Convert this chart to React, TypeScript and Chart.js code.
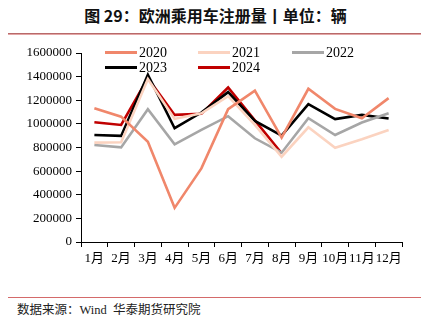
import React, { useEffect, useRef } from "react";
import { Chart, registerables } from "chart.js";

Chart.register(...registerables);

const months = ["1月", "2月", "3月", "4月", "5月", "6月", "7月", "8月", "9月", "10月", "11月", "12月"];
const y2020 = [1133000, 1061000, 849000, 289000, 623000, 1124000, 1282000, 883000, 1297000, 1127000, 1048000, 1218000];
const y2021 = [841000, 845000, 1380000, 1042000, 1090000, 1235000, 991000, 722000, 971000, 798000, 870000, 949000];
const y2022 = [821000, 801000, 1124000, 827000, 950000, 1065000, 878000, 756000, 1048000, 906000, 1011000, 1090000];
const y2023 = [906000, 898000, 1416000, 963000, 1096000, 1269000, 1025000, 900000, 1167000, 1040000, 1076000, 1045000];
const y2024 = [1014000, 991000, 1388000, 1076000, 1085000, 1308000, 1030000, 751000, null, null, null, null];

const seriesNames = ["2020", "2021", "2022", "2023", "2024"];
const seriesColors = ["#F0876B", "#FBD3C0", "#A6A6A6", "#000000", "#C00000"];
const seriesData = [y2020, y2021, y2022, y2023, y2024];

const titleText = "图 29：欧洲乘用车注册量丨单位：辆";
const sourceText = "数据来源：Wind  华泰期货研究院";

const serif = "'Times New Roman', 'Liberation Serif', 'Noto Sans CJK SC', serif";

const legendPlugin = {
  id: "customLegend",
  afterDraw(chart: any) {
    const ctx = chart.ctx;
    const cols = [105, 198, 292];
    const rows = [12.5, 27.5];
    ctx.save();
    ctx.font = `14px ${serif}`;
    ctx.textBaseline = "middle";
    ctx.textAlign = "left";
    chart.data.datasets.forEach((ds: any, i: number) => {
      const x = cols[i % 3];
      const y = rows[Math.floor(i / 3)];
      ctx.strokeStyle = ds.borderColor;
      ctx.lineWidth = 3;
      ctx.beginPath();
      ctx.moveTo(x, y);
      ctx.lineTo(x + 32, y);
      ctx.stroke();
      ctx.fillStyle = "#000";
      ctx.fillText(ds.label, x + 34, y + 1);
    });
    ctx.restore();
  },
};

function LineChart() {
  const ref = useRef<HTMLCanvasElement>(null);
  useEffect(() => {
    if (!ref.current) return;
    const chart = new Chart(ref.current, {
      type: "line",
      data: {
        labels: months,
        datasets: seriesNames.map((name, i) => ({
          label: name,
          data: seriesData[i],
          borderColor: seriesColors[i],
          backgroundColor: seriesColors[i],
          borderWidth: 2.6,
          pointRadius: 0,
          tension: 0,
          fill: false,
          spanGaps: false,
        })),
      },
      options: {
        animation: false,
        responsive: false,
        maintainAspectRatio: false,
        layout: { padding: { top: 13, left: 8, right: 29, bottom: 0 } },
        plugins: {
          legend: { display: false },
          tooltip: { enabled: false },
          title: { display: false },
        },
        scales: {
          x: {
            offset: true,
            grid: {
              display: true,
              drawOnChartArea: false,
              drawTicks: true,
              tickLength: 5,
              color: "#000",
              offset: true,
            },
            border: { display: true, color: "#000", width: 1 },
            ticks: {
              color: "#000",
              font: { family: serif, size: 13 },
              padding: 4,
              maxRotation: 0,
              autoSkip: false,
            },
            afterFit(scale: any) {
              scale.height = 28;
            },
          },
          y: {
            min: 0,
            max: 1600000,
            grid: {
              display: true,
              drawOnChartArea: false,
              drawTicks: true,
              tickLength: 5,
              color: "#000",
            },
            border: { display: true, color: "#000", width: 1 },
            ticks: {
              stepSize: 200000,
              color: "#000",
              font: { family: serif, size: 13 },
              padding: 4,
              callback: (v: any) => String(v),
            },
            afterFit(scale: any) {
              scale.width = 73;
            },
          },
        },
      },
      plugins: [legendPlugin],
    });
    return () => chart.destroy();
  }, []);
  return <canvas ref={ref} width={431} height={230} style={{ position: "absolute", left: 0, top: 40, width: 431, height: 230 }} />;
}

export default function App() {
  return (
    <div style={{ position: "absolute", left: 0, top: 0, width: 431, height: 328, background: "#fff", overflow: "hidden" }}>
      <div
        style={{
          position: "absolute",
          left: 0,
          top: 4,
          width: 431,
          textAlign: "center",
          fontFamily: "'Noto Sans CJK SC', sans-serif",
          fontWeight: "bold",
          fontSize: 16,
          lineHeight: "22px",
          color: "#111",
          whiteSpace: "pre",
        }}
      >
        {titleText}
      </div>
      <div style={{ position: "absolute", left: 8, top: 33, width: 413, height: 1, background: "#B86A6A" }} />
      <div style={{ position: "absolute", left: 8, top: 34, width: 413, height: 1, background: "#E3A6A6" }} />
      <LineChart />
      <div style={{ position: "absolute", left: 8, top: 297, width: 413, height: 1, background: "#D46A6A" }} />
      <div
        style={{
          position: "absolute",
          left: 17,
          top: 302,
          fontFamily: serif,
          fontSize: 12.5,
          lineHeight: "17px",
          color: "#222",
          whiteSpace: "pre",
        }}
      >
        {sourceText}
      </div>
    </div>
  );
}
